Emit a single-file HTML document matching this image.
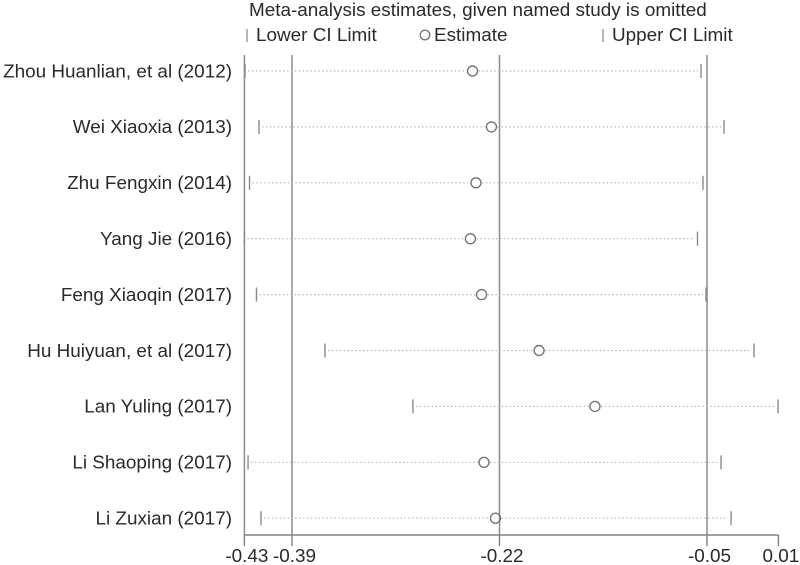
<!DOCTYPE html>
<html lang="en">
<head>
<meta charset="utf-8">
<title>Meta-analysis sensitivity plot</title>
<style>
html,body{margin:0;padding:0;background:#fff;width:800px;height:565px;overflow:hidden}
svg{display:block;font-family:"Liberation Sans",Arial,sans-serif}
text{fill:#2a2a2a;font-size:18.9px}
</style>
</head>
<body>
<svg id="chart" width="800" height="565" viewBox="0 0 800 565" xmlns="http://www.w3.org/2000/svg">
  <defs><filter id="soft" x="-2%" y="-2%" width="104%" height="104%"><feGaussianBlur stdDeviation="0.35"/></filter></defs>
  <g id="plot" filter="url(#soft)">
    <text x="249" y="16">Meta-analysis estimates, given named study is omitted</text>
    <line x1="247" x2="247" y1="29" y2="42" stroke="#999" stroke-width="1.4"/>
    <text x="256" y="41">Lower CI Limit</text>
    <circle cx="425" cy="35" r="4.8" fill="none" stroke="#777" stroke-width="1.3"/>
    <text x="434" y="41">Estimate</text>
    <line x1="603" x2="603" y1="29" y2="42" stroke="#999" stroke-width="1.4"/>
    <text x="612" y="41">Upper CI Limit</text>
  </g>
</svg>
<script>
const studies = ["Zhou Huanlian, et al (2012)","Wei Xiaoxia (2013)","Zhu Fengxin (2014)","Yang Jie (2016)","Feng Xiaoqin (2017)","Hu Huiyuan, et al (2017)","Lan Yuling (2017)","Li Shaoping (2017)","Li Zuxian (2017)"];
const lowerLimits = [-0.4285,-0.4170,-0.4248,-0.4290,-0.4191,-0.3630,-0.2909,-0.4260,-0.4154];
const estimates = [-0.2421,-0.2266,-0.2393,-0.2438,-0.2347,-0.1876,-0.1418,-0.2327,-0.2233];
const upperLimits = [-0.0549,-0.0361,-0.0533,-0.0578,-0.0508,-0.0115,0.0082,-0.0385,-0.0303];
const tickValues = [-0.429,-0.39,-0.22,-0.05,0.0085];
const tickLabels = ["-0.43","-0.39","-0.22","-0.05","0.01"];
const refValues = [-0.39,-0.22,-0.05];

const NS = "http://www.w3.org/2000/svg";
const plot = document.getElementById("plot");
const xScale = v => 499.5 + (v + 0.22) * 1220.6;
const yScale = i => 71 + i * 55.9;
const axisY = 535;

function make(tag, attrs, text) {
  const el = document.createElementNS(NS, tag);
  for (const k in attrs) el.setAttribute(k, attrs[k]);
  if (text !== undefined) el.textContent = text;
  plot.appendChild(el);
  return el;
}

// reference vertical lines
refValues.forEach(v => {
  const el = make("line", {x1:xScale(v), x2:xScale(v), y1:55, y2:axisY, stroke:"#8c8c8c", "stroke-width":1.5});
  
  
});

// x axis
const axis = make("line", {x1:xScale(tickValues[0]), x2:xScale(tickValues[4]), y1:axisY, y2:axisY, stroke:"#808080", "stroke-width":1.4});



const leftAxis = make("line", {x1:xScale(tickValues[0]), x2:xScale(tickValues[0]), y1:55, y2:axisY, stroke:"#8c8c8c", "stroke-width":1.5});



tickValues.forEach((v, i) => {
  const t = make("line", {x1:xScale(v), x2:xScale(v), y1:axisY, y2:546, stroke:"#808080", "stroke-width":1.4});
  
  
  const label = make("text", {x:xScale(v) + 2.5, y:562, "text-anchor":"middle"}, tickLabels[i]);
  
  
});

// study rows
studies.forEach((name, i) => {
  const y = yScale(i);
  const lo = xScale(lowerLimits[i]), est = xScale(estimates[i]), hi = xScale(upperLimits[i]);

  const label = make("text", {x:232, y:y + 6.3, "text-anchor":"end"}, name);
  
  

  const dashA = make("line", {x1:lo + 3, x2:est - 6, y1:y, y2:y, stroke:"#b8b8b8", "stroke-width":1.2, "stroke-dasharray":"1.5 2.4"});
  
  

  const dashB = make("line", {x1:est + 6, x2:hi - 3, y1:y, y2:y, stroke:"#b8b8b8", "stroke-width":1.2, "stroke-dasharray":"1.5 2.4"});
  
  

  const low = make("line", {x1:lo, x2:lo, y1:y - 7, y2:y + 7, stroke:"#8a8a8a", "stroke-width":1.4});
  
  

  const up = make("line", {x1:hi, x2:hi, y1:y - 7, y2:y + 7, stroke:"#8a8a8a", "stroke-width":1.4});
  
  

  const pt = make("circle", {cx:est, cy:y, r:5, fill:"none", stroke:"#757575", "stroke-width":1.4});
  
  
});
</script>
</body>
</html>
